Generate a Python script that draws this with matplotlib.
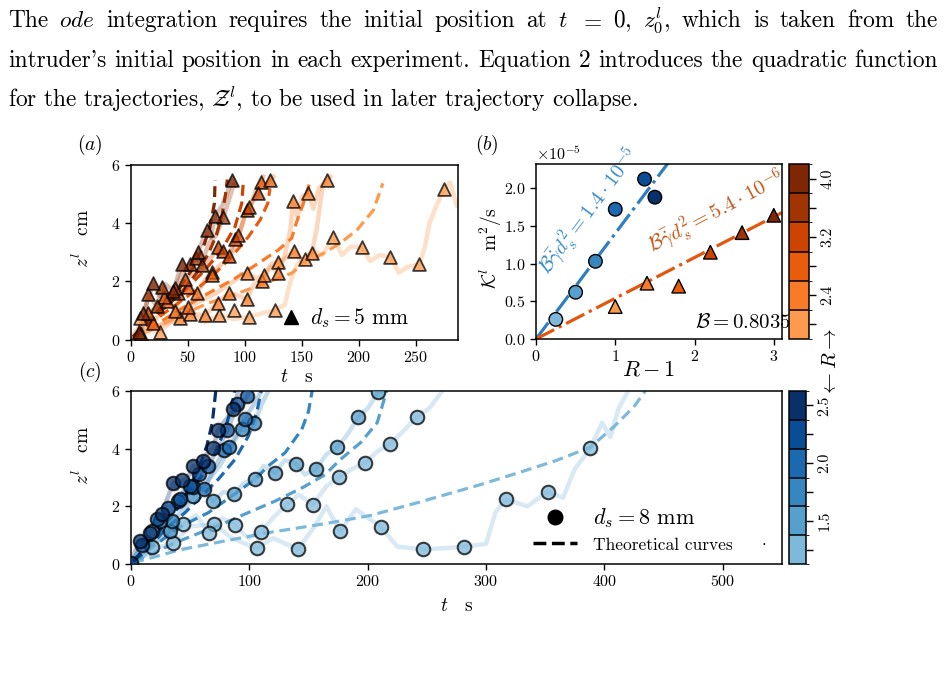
import numpy as np
import matplotlib
matplotlib.use('Agg')
import matplotlib.pyplot as plt
from matplotlib.colors import ListedColormap, BoundaryNorm
from matplotlib.cm import ScalarMappable
from matplotlib.lines import Line2D
from matplotlib.transforms import IdentityTransform

plt.rcParams.update({
    'font.family': 'serif',
    'font.serif': ['cmr10'],
    'mathtext.fontset': 'cm',
    'axes.formatter.use_mathtext': True,
    'axes.unicode_minus': False,
})

# ---------------- data ----------------
header_line1 = ["The", r"$\mathit{ode}$", "integration", "requires", "the", "initial", "position",
                "at", "$t$", "$=$", "$0$,", "$z_0^l$,", "which", "is", "taken", "from", "the"]
header_line2 = ["intruder's", "initial", "position", "in", "each", "experiment.", "Equation", "2",
                "introduces", "the", "quadratic", "function"]
header_line3 = r"for the trajectories, $\mathcal{Z}^l$, to be used in later trajectory collapse."

R_a = [2.0, 2.4, 2.8, 3.2, 3.6, 4.0]          # orange colour levels (d_s = 5 mm)
R_c = [1.25, 1.5, 1.75, 2.0, 2.25, 2.5]       # blue colour levels (d_s = 8 mm)
cbar_a_labels = ['', '2.4', '', '3.2', '', '4.0']
cbar_c_labels = ['', '1.5', '', '2.0', '', '2.5']

# panel (a) markers per colour level
a_m_t = [
    [7.9, 25.5, 77.5, 90.7, 103.6, 126.4, 152.8, 177.7, 202.5, 227.4, 253.2, 275.0],
    [43.0, 51.8, 65.0, 76.1, 86.0, 101.6, 101.6, 114.7, 117.0, 129.3, 129.3, 142.0, 143.1, 155.7, 158.6, 171.8],
    [19.6, 31.3, 38.6, 50.3, 50.3, 57.7, 71.4, 71.4, 113.9, 122.0],
    [15.2, 29.3, 41.0, 47.4, 76.1, 81.1, 86.0, 91.3, 94.2, 101.6, 103.9, 111.8],
    [8.8, 15.2, 22.5, 27.5, 38.6, 51.8, 57.0, 62.0, 81.0],
    [7.0, 10.8, 19.6, 37.2, 44.5, 59.0, 66.4, 73.8, 88.4],
]
a_m_z = [
    [0.73, 0.27, 0.84, 1.01, 0.78, 1.01, 2.76, 3.54, 3.17, 2.85, 2.58, 5.17],
    [0.73, 0.88, 0.84, 1.27, 1.61, 1.38, 2.30, 2.02, 2.22, 2.68, 2.27, 4.76, 3.05, 5.05, 2.98, 5.48],
    [0.56, 1.33, 0.98, 1.82, 1.13, 1.59, 2.33, 2.22, 5.43, 5.48],
    [0.90, 1.45, 1.61, 2.08, 3.17, 3.05, 2.87, 3.44, 3.59, 4.45, 4.57, 5.05],
    [0.18, 1.55, 1.15, 1.79, 1.76, 2.60, 2.79, 2.56, 4.20],
    [0.25, 0.90, 1.93, 1.68, 2.60, 3.02, 3.76, 4.25, 5.48],
]
# panel (a) measured trajectories (level index, t, z)
a_tr_level = [5, 4, 3, 2, 1, 1, 0]
a_tr_t = [
    [0, 5, 7, 10.8, 15, 19.6, 25, 30, 37.2, 44.5, 50, 59, 66.4, 70, 73.8, 80, 84, 88.4, 92],
    [0, 8.8, 15.2, 22.5, 27.5, 33, 38.6, 45, 51.8, 57, 62, 68, 75, 81, 86, 90],
    [0, 15.2, 22, 29.3, 35, 41, 47.4, 55, 62, 70, 76.1, 81.1, 86, 91.3, 94.2, 98, 101.6, 103.9, 108, 111.8, 116],
    [0, 12, 19.6, 25, 31.3, 38.6, 44, 50.3, 57.7, 64, 71.4, 80, 88, 95, 100, 105, 109, 113.9, 118, 122, 125],
    [0, 20, 35, 43, 51.8, 65, 76.1, 86, 95, 101.6, 108, 114.7, 117, 123, 129.3, 135, 140, 142, 146, 150, 155.7, 160, 165, 171.8, 175],
    [0, 30, 55, 75, 90, 101.6, 110, 117, 123, 129.3, 136, 143.1, 150, 158.6, 163, 168],
    [0, 12, 25.5, 38, 51.8, 65, 77.5, 90, 103.6, 115, 126.4, 135, 140, 146, 152.8, 160, 168, 177.7, 185, 193,
     202.5, 210, 218, 227.4, 235, 243, 253.2, 258, 262, 268, 275, 280, 286],
]
a_tr_z = [
    [0, 0.1, 0.25, 0.9, 1.4, 1.93, 1.5, 1.9, 1.68, 2.6, 2.4, 3.02, 3.76, 3.5, 4.25, 4.6, 5.0, 5.48, 5.3],
    [0, 0.18, 1.55, 1.15, 1.79, 1.4, 1.76, 2.3, 2.6, 2.79, 2.56, 3.3, 3.6, 4.2, 4.8, 5.3],
    [0, 0.9, 1.1, 1.45, 1.3, 1.61, 2.08, 2.3, 2.5, 2.8, 3.17, 3.05, 2.87, 3.44, 3.59, 4.0, 4.45, 4.57, 4.8, 5.05, 5.6],
    [0, 0.4, 0.56, 0.9, 1.33, 0.98, 1.5, 1.82, 1.59, 2.0, 2.33, 2.6, 2.9, 3.6, 4.3, 4.6, 5.1, 5.43, 5.2, 5.48, 5.6],
    [0, 0.4, 0.6, 0.73, 0.88, 0.84, 1.27, 1.61, 1.5, 1.38, 1.9, 2.02, 2.22, 2.5, 2.27, 2.9, 3.8, 4.76, 4.2, 4.9, 5.05, 4.5, 5.2, 5.48, 5.6],
    [0, 0.6, 1.2, 1.6, 2.0, 2.30, 2.1, 2.22, 2.6, 2.68, 2.8, 3.05, 2.7, 2.98, 3.8, 5.2],
    [0, 0.3, 0.27, 0.7, 0.88, 0.6, 0.84, 0.7, 0.78, 0.9, 1.01, 1.2, 2.0, 2.6, 2.76, 3.1, 2.9, 3.54, 2.9, 3.2,
     3.17, 2.7, 2.9, 2.85, 2.3, 2.5, 2.58, 3.2, 4.0, 4.6, 5.17, 5.4, 4.6],
]
# panel (a) theoretical curves, one per colour level
a_th_t = [
    [2, 9, 24, 44.5, 67.9, 91.3, 111.8, 141, 151.3, 168.8, 183.5, 198.2, 212.8, 221],
    [2, 9, 24, 44.5, 67.9, 91.3, 111.8, 129.3, 141, 145, 151.3, 157.2],
    [2, 15.2, 32.8, 53.3, 70.8, 88.4, 103, 113.3, 120, 122],
    [2, 13, 29.9, 47.4, 65, 79.6, 91.3, 97.2, 98.6],
    [2, 15, 30, 45, 58, 68, 75, 80, 83, 84.5],
    [2, 12.3, 27, 41.5, 53.3, 63.5, 69.4, 73.2, 73.8],
]
a_th_z = [
    [0.1, 0.2, 0.45, 0.85, 1.25, 1.55, 1.85, 2.28, 2.62, 2.96, 3.31, 3.76, 4.45, 5.37],
    [0.1, 0.2, 0.56, 1.07, 1.59, 2.1, 2.62, 3.08, 3.48, 4.0, 4.68, 5.43],
    [0.1, 0.5, 1.01, 1.59, 2.16, 2.85, 3.53, 4.11, 4.68, 5.2],
    [0.1, 0.5, 1.13, 1.7, 2.39, 3.08, 3.88, 4.68, 5.43],
    [0.1, 0.55, 1.1, 1.65, 2.3, 2.95, 3.6, 4.3, 5.0, 5.5],
    [0.1, 0.56, 1.13, 1.7, 2.39, 3.19, 3.88, 4.68, 5.48],
]

# panel (b)
b_circ_x = [0.25, 0.5, 0.75, 1.0, 1.37, 1.5]
b_circ_y = [0.26e-5, 0.62e-5, 1.03e-5, 1.72e-5, 2.12e-5, 1.88e-5]
b_tri_x = [1.0, 1.4, 1.8, 2.2, 2.6, 3.0]
b_tri_y = [0.43e-5, 0.74e-5, 0.70e-5, 1.15e-5, 1.41e-5, 1.64e-5]
slope_8mm = 1.4e-5
slope_5mm = 5.4e-6
B_value = 0.8035

# panel (c) markers per colour level
c_m_t = [
    [35.8, 70.4, 106.2, 140.9, 176.7, 211.0, 247.1, 281.5, 317.0, 351.9, 388.0,
     18.0, 44.2, 65.9, 87.9, 109.9, 131.6, 153.6, 175.8, 197.8, 218.9, 241.5],
    [17.5, 52.7, 69.6, 87.3, 104.8, 121.7, 139.2, 156.4, 174.4, 192.2, 209.0],
    [33.0, 34.4, 93.6, 104.3],
    [24.5, 40.0, 52.7, 62.0, 78.6, 83.1, 96.4],
    [9.0, 21.7, 31.0, 41.4, 49.9, 57.5, 65.3, 81.4, 89.3, 97.8],
    [0.0, 7.6, 16.1, 26.0, 35.8, 43.4, 52.7, 61.1, 69.6, 73.3, 86.5],
]
c_m_z = [
    [0.74, 1.38, 0.54, 0.51, 1.14, 1.29, 0.51, 0.60, 2.24, 2.51, 4.01,
     0.60, 1.38, 1.09, 1.34, 1.12, 2.07, 2.05, 3.02, 3.51, 4.17, 5.11],
    [1.14, 2.36, 2.18, 2.42, 2.94, 3.17, 3.48, 3.30, 4.06, 5.11, 5.96],
    [1.14, 1.49, 4.69, 4.88],
    [1.49, 2.18, 2.67, 2.59, 3.94, 4.07, 5.02],
    [0.65, 1.55, 1.95, 2.24, 2.70, 3.11, 3.40, 4.64, 5.54, 5.83],
    [0.05, 0.80, 1.09, 1.72, 2.82, 2.90, 3.40, 3.57, 4.01, 4.64, 5.36],
]
c_tr_level = [5, 4, 3, 2, 1, 0, 0]
c_tr_t = [
    [0, 4, 7.6, 12, 16.1, 21, 26, 30, 35.8, 39, 43.4, 48, 52.7, 57, 61.1, 65, 69.6, 73.3, 78, 82, 86.5, 90],
    [0, 9, 15, 21.7, 26, 31, 36, 41.4, 45, 49.9, 57.5, 61, 65.3, 72, 76, 81.4, 85, 89.3, 93, 97.8, 100],
    [0, 12, 18, 24.5, 32, 40, 46, 52.7, 57, 62, 70, 78.6, 83.1, 88, 92, 96.4, 100, 105, 110],
    [0, 15, 25, 33, 34.4, 45, 55, 65, 75, 85, 93.6, 100, 104.3, 110, 116],
    [0, 8, 17.5, 26, 35, 44, 52.7, 60, 69.6, 78, 87.3, 95, 104.8, 112, 121.7, 130, 139.2, 147, 156.4, 165,
     174.4, 183, 192.2, 200, 209, 214],
    [0, 9, 18, 30, 44.2, 55, 65.9, 77, 87.9, 99, 109.9, 120, 131.6, 142, 153.6, 165, 175.8, 187, 197.8, 208,
     218.9, 230, 241.5, 252, 263],
    [0, 18, 35.8, 50, 70.4, 85, 106.2, 120, 140.9, 155, 165, 176.7, 190, 211, 225, 247.1, 265, 281.5, 300,
     308, 317, 335, 351.9, 365, 375, 388, 398, 405, 412, 420],
]
c_tr_z = [
    [0.05, 0.5, 0.8, 0.7, 1.09, 1.3, 1.72, 2.2, 2.82, 2.6, 2.9, 3.0, 3.4, 3.3, 3.57, 3.9, 4.01, 4.64, 4.9, 5.1, 5.36, 5.9],
    [0, 0.65, 1.2, 1.55, 1.6, 1.95, 2.1, 2.24, 2.6, 2.7, 3.11, 3.3, 3.4, 3.9, 4.2, 4.64, 5.0, 5.54, 5.3, 5.83, 6.0],
    [0, 0.3, 0.9, 1.49, 1.7, 2.18, 2.5, 2.67, 2.9, 2.59, 3.3, 3.94, 4.07, 4.4, 4.7, 5.02, 5.3, 5.6, 6.0],
    [0, 0.6, 0.9, 1.14, 1.49, 1.9, 2.4, 2.9, 3.4, 4.1, 4.69, 4.6, 4.88, 5.5, 6.0],
    [0, 0.5, 1.14, 1.4, 1.8, 2.0, 2.36, 2.6, 2.18, 2.5, 2.42, 2.8, 2.94, 3.4, 3.17, 3.6, 3.48, 3.1, 3.3, 3.8,
     4.06, 4.5, 5.11, 5.4, 5.96, 6.0],
    [0, 0.3, 0.6, 1.1, 1.38, 1.7, 1.09, 1.6, 1.34, 0.9, 1.12, 1.6, 2.07, 2.4, 2.05, 2.7, 3.02, 3.3, 3.51, 3.9,
     4.17, 4.6, 5.11, 5.4, 6.0],
    [0, 0.5, 0.74, 1.3, 1.38, 0.9, 0.54, 0.9, 0.51, 1.3, 2.0, 1.14, 1.9, 1.29, 0.6, 0.51, 0.55, 0.6, 0.7,
     1.8, 2.24, 2.0, 2.51, 2.3, 3.3, 4.01, 4.9, 4.4, 5.4, 6.0],
]
c_th_t = [
    [2, 23, 41, 79.5, 118, 164, 202, 244, 295, 330, 360, 388, 408, 425, 434.5],
    [2, 20, 37.5, 58, 79.6, 100, 121.7, 145, 164, 177, 194, 208, 216],
    [2, 23.1, 42.8, 65.3, 87.3, 104.8, 116, 130.2, 144.3, 150, 153],
    [2, 14.6, 28.7, 45.6, 59.7, 73.8, 87.9, 99.2, 106.2, 110],
    [2, 17.5, 31.5, 45.6, 59.7, 71, 79.5, 85.1, 87.5],
    [2, 9, 20.3, 34.4, 47.1, 56.9, 64, 68.7, 71.6],
]
c_th_z = [
    [0.05, 0.28, 0.49, 0.8, 1.1, 1.4, 1.68, 2.15, 2.75, 3.2, 3.6, 4.05, 4.76, 5.46, 6.0],
    [0.1, 0.4, 0.74, 1.08, 1.43, 1.8, 2.18, 2.65, 3.1, 3.63, 4.21, 4.9, 6.0],
    [0.1, 0.74, 1.32, 1.78, 2.42, 2.94, 3.4, 3.86, 4.67, 5.3, 6.0],
    [0.1, 0.51, 1.2, 1.78, 2.36, 2.94, 3.63, 4.44, 5.25, 6.0],
    [0.1, 0.86, 1.55, 2.24, 3.05, 3.86, 4.67, 5.48, 6.0],
    [0.1, 0.39, 0.97, 1.66, 2.47, 3.28, 4.09, 4.9, 6.0],
]

# ---------------- figure ----------------
W, H = 944, 685
fig = plt.figure(figsize=(W / 100, H / 100), dpi=100)


def fbox(l, t, r, b):
    return [l / W, 1 - b / H, (r - l) / W, (b - t) / H]


def fx(x):
    return x / W


def fy(y):
    return 1 - y / H


ax_a = fig.add_axes(fbox(131, 165, 458, 339.5))
ax_b = fig.add_axes(fbox(536, 164, 781.7, 339))
cax_b = fig.add_axes(fbox(789.3, 164, 809, 339))
ax_c = fig.add_axes(fbox(131, 391, 782, 564))
cax_c = fig.add_axes(fbox(789.3, 391, 805.7, 564))

cols_a = plt.get_cmap('Oranges')(np.linspace(0.45, 1.0, 6))
cols_c = plt.get_cmap('Blues')(np.linspace(0.45, 1.0, 6))

TICK = 11.5
LAB = 14


def style(ax):
    for s in ax.spines.values():
        s.set_linewidth(1.1)
    ax.tick_params(direction='out', length=4, width=1, labelsize=TICK)


def make_cbar(cax, cols, R, labels):
    cmap = ListedColormap(cols)
    R = np.array(R)
    d = R[1] - R[0]
    bounds = np.concatenate([[R[0] - d / 2], (R[:-1] + R[1:]) / 2, [R[-1] + d / 2]])
    norm = BoundaryNorm(bounds, cmap.N)
    cb = fig.colorbar(ScalarMappable(norm=norm, cmap=cmap), cax=cax, drawedges=True)
    cb.set_ticks(list(R))
    cb.set_ticklabels(labels)
    cb.ax.tick_params(length=5, width=1, labelsize=TICK, labelrotation=90)
    for t in cb.ax.get_yticklabels():
        t.set_va('center')
    cb.outline.set_linewidth(1.1)
    cb.dividers.set_linewidth(1.1)
    return cmap, norm


make_cbar(cax_b, cols_a, R_a, cbar_a_labels)
make_cbar(cax_c, cols_c, R_c, cbar_c_labels)

# ---- panel (a)
for lev, t, z in zip(a_tr_level, a_tr_t, a_tr_z):
    ax_a.plot(t, z, color=cols_a[lev], alpha=0.3, lw=3.2, zorder=1, solid_joinstyle='round')
for i in range(6):
    ax_a.plot(a_th_t[i], a_th_z[i], color=cols_a[i], lw=2.3, ls=(0, (3.4, 1.8)), zorder=2)
for i in range(6):
    ax_a.scatter(a_m_t[i], a_m_z[i], marker='^', s=85, color=cols_a[i], edgecolors='k',
                 linewidths=1.3, alpha=0.75, zorder=3)
ax_a.set_xlim(0, 287)
ax_a.set_ylim(0, 6)
ax_a.set_xticks([0, 50, 100, 150, 200, 250])
ax_a.set_yticks([0, 2, 4, 6])
style(ax_a)
ax_a.set_xlabel(r'$t\quad\mathrm{s}$', fontsize=LAB)
ax_a.xaxis.set_label_coords(0.505, -0.165)
ax_a.set_ylabel(r'$z^l\quad\mathrm{cm}$', fontsize=LAB)
ax_a.yaxis.set_label_coords(-0.115, 0.58)
leg_a = ax_a.legend([Line2D([], [], marker='^', color='k', ls='none', ms=9.5)], [r'$d_s = 5$ mm'],
                    loc='center', bbox_to_anchor=(0.65, 0.123), frameon=False, fontsize=15.5,
                    handletextpad=0.3, borderpad=0, handlelength=1.2)

# ---- panel (b)
xlim_b = np.array([0, 3.1])
ax_b.plot(xlim_b, slope_8mm * xlim_b, color='#2f7fc0', lw=2.3, ls='-.', zorder=1)
ax_b.plot(xlim_b, slope_5mm * xlim_b, color='#e2570f', lw=2.3, ls='-.', zorder=1)
ax_b.scatter(b_circ_x, b_circ_y, marker='o', s=95, color=cols_c, edgecolors='k', linewidths=1.0, zorder=3)
ax_b.scatter(b_tri_x, b_tri_y, marker='^', s=95, color=cols_a, edgecolors='k', linewidths=1.0, zorder=3)
ax_b.set_xlim(*xlim_b)
ax_b.set_ylim(0, 2.32e-5)
ax_b.set_xticks([0, 1, 2, 3])
ax_b.set_yticks([0, 0.5e-5, 1.0e-5, 1.5e-5, 2.0e-5])
style(ax_b)
ax_b.yaxis.get_offset_text().set_fontsize(TICK)
ax_b.set_xlabel(r'$R-1$', fontsize=16)
ax_b.xaxis.set_label_coords(0.46, -0.12)
ax_b.set_ylabel(r'$\mathcal{K}^l\quad\mathrm{m}^2/\mathrm{s}$', fontsize=LAB)
ax_b.yaxis.set_label_coords(-0.13, 0.52)
fig.text(fx(590), fy(212), r'$\mathcal{B}\bar{\dot{\gamma}}d_s^2 = 1.4\cdot 10^{-5}$', color='#3a8cc8',
         fontsize=15, rotation=53, ha='center', va='center', rotation_mode='anchor')
fig.text(fx(717), fy(213), r'$\mathcal{B}\bar{\dot{\gamma}}d_s^2 = 5.4\cdot 10^{-6}$', color='#bf5a1c',
         fontsize=15, rotation=28, ha='center', va='center', rotation_mode='anchor')
fig.text(fx(695), fy(323), r'$\mathcal{B} = %.4f$' % B_value, fontsize=15, ha='left', va='center')

# ---- panel (c)
for lev, t, z in zip(c_tr_level, c_tr_t, c_tr_z):
    ax_c.plot(t, z, color=cols_c[lev], alpha=0.3, lw=3.2, zorder=1, solid_joinstyle='round')
for i in range(6):
    ax_c.plot(c_th_t[i], c_th_z[i], color=cols_c[i], lw=2.3, ls=(0, (3.4, 1.8)), zorder=2)
for i in range(6):
    ax_c.scatter(c_m_t[i], c_m_z[i], marker='o', s=95, color=cols_c[i], edgecolors='k',
                 linewidths=1.5, alpha=0.75, zorder=3)
ax_c.set_xlim(0, 550)
ax_c.set_ylim(0, 6)
ax_c.set_xticks([0, 100, 200, 300, 400, 500])
ax_c.set_yticks([0, 2, 4, 6])
style(ax_c)
ax_c.set_xlabel(r'$t\quad\mathrm{s}$', fontsize=LAB)
ax_c.xaxis.set_label_coords(0.5, -0.19)
ax_c.set_ylabel(r'$z^l\quad\mathrm{cm}$', fontsize=LAB)
ax_c.yaxis.set_label_coords(-0.058, 0.63)
leg_c = ax_c.legend([Line2D([], [], marker='o', color='k', ls='none', ms=10.5),
                     Line2D([], [], color='k', ls='--', lw=2.5)],
                    [r'$d_s = 8$ mm', 'Theoretical curves'],
                    loc='center', bbox_to_anchor=(0.771, 0.197), frameon=False, fontsize=16,
                    handletextpad=0.7, borderpad=0, handlelength=2.0, labelspacing=0.2)
leg_c.get_texts()[1].set_fontsize(12.5)
fig.text(fx(764), fy(545), '.', fontsize=12, ha='center', va='baseline')

# ---- panel labels and colour-bar label
fig.text(fx(90), fy(145), '$(a)$', fontsize=14, ha='center', va='center')
fig.text(fx(487), fy(145), '$(b)$', fontsize=14, ha='center', va='center')
fig.text(fx(90), fy(372), '$(c)$', fontsize=14, ha='center', va='center')
fig.text(fx(831), fy(362), r'$\leftarrow R \rightarrow$', fontsize=15, rotation=90,
         ha='center', va='center')

# ---- header text
HS = 16.8
renderer = fig.canvas.get_renderer()


def justified(words, y_base, x0, x1):
    objs = [fig.text(0, 0, w, fontsize=HS, transform=IdentityTransform(), ha='left', va='baseline')
            for w in words]
    widths = [o.get_window_extent(renderer).width for o in objs]
    gap = (x1 - x0 - sum(widths)) / (len(words) - 1)
    x = x0
    for o, w in zip(objs, widths):
        o.set_position((x, H - y_base))
        x += w + gap


justified(header_line1, 27, 8, 938)
justified(header_line2, 67, 8, 938)
fig.text(8, H - 107, header_line3, fontsize=HS, transform=IdentityTransform(), ha='left', va='baseline')

fig.savefig('out.png', dpi=100)
